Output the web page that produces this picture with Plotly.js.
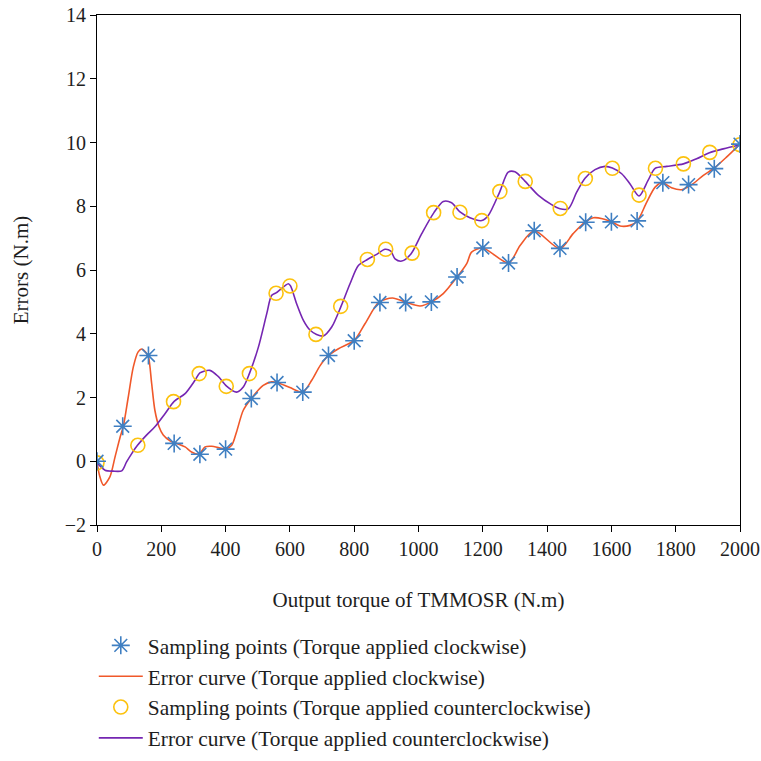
<!DOCTYPE html>
<html>
<head>
<meta charset="utf-8">
<script src="https://cdn.plot.ly/plotly-3.0.1.min.js"></script>
<style>html,body{margin:0;padding:0;background:#fff}#chart{width:761px;height:761px}</style>
</head>
<body>
<div id="chart"></div>
<script>
// Sampling points, torque applied clockwise
var cwSampleX = [0,80,160,240,320,400,480,560,640,720,800,880,960,1040,1120,1200,1280,1360,1440,1520,1600,1680,1760,1840,1920,2000];
var cwSampleY = [0,1.1,3.32,0.56,0.22,0.38,1.97,2.47,2.17,3.32,3.78,4.98,4.98,5.0,5.78,6.69,6.22,7.23,6.68,7.5,7.51,7.54,8.74,8.68,9.18,9.95];

// Sampling points, torque applied counterclockwise
var ccwSampleX = [0,127,238,318,402,474,557,600,681,758,841,898,980,1047,1129,1197,1253,1332,1441,1519,1603,1686,1737,1824,1906,2000];
var ccwSampleY = [-0.05,0.5,1.87,2.75,2.35,2.75,5.27,5.5,3.98,4.86,6.33,6.65,6.53,7.8,7.81,7.55,8.46,8.78,7.93,8.87,9.19,8.35,9.19,9.33,9.69,9.93];

// Error curve, clockwise
var cwCurveX = [0,8,20,40,56,72,82,97,113,128,139,151,160,170,180,193,206,227,250,274,294,317,336,357,380,400,419,434,455,480,517,543,560,600,640,668,694,720,751,800,834,877,919,960,1005,1040,1077,1120,1150,1165,1200,1280,1316,1360,1440,1481,1518,1544,1572,1603,1627,1658,1680,1710,1736,1758,1787,1818,1850,1886,1920,1958,2000];
var cwCurveY = [0,-0.45,-0.75,-0.49,0.13,0.76,1.1,2.0,2.96,3.43,3.52,3.43,3.27,2.44,1.6,1.08,0.82,0.64,0.55,0.45,0.29,0.22,0.45,0.47,0.42,0.38,0.5,0.92,1.6,1.97,2.38,2.49,2.47,2.31,2.17,2.54,3.0,3.32,3.53,3.79,4.32,4.99,5.12,4.99,4.87,5.0,5.26,5.78,6.2,6.56,6.69,6.22,6.77,7.23,6.67,7.14,7.5,7.64,7.61,7.5,7.38,7.4,7.53,8.13,8.6,8.74,8.58,8.52,8.68,8.97,9.2,9.54,9.95];

// Error curve, counterclockwise
var ccwCurveX = [0,25,50,77,92,108,126,154,180,212,240,274,305,320,351,377,403,434,455,474,502,528,543,557,595,602,621,642,663,683,704,730,759,787,813,841,870,896,914,927,948,977,1010,1048,1077,1103,1129,1160,1197,1217,1253,1279,1300,1331,1373,1414,1440,1466,1492,1518,1549,1580,1603,1632,1658,1686,1714,1736,1772,1824,1865,1905,1948,2000];
var ccwCurveY = [-0.05,-0.28,-0.31,-0.3,-0.02,0.24,0.5,0.82,1.08,1.5,1.88,2.12,2.54,2.77,2.85,2.66,2.36,2.17,2.33,2.75,3.58,4.63,5.2,5.28,5.57,5.5,4.94,4.42,4.11,3.98,3.93,4.21,4.86,5.57,6.14,6.33,6.49,6.65,6.59,6.35,6.28,6.51,7.14,7.8,8.15,8.11,7.82,7.64,7.55,7.71,8.46,9.07,9.08,8.79,8.34,8.05,7.92,7.92,8.44,8.88,9.15,9.25,9.2,9.02,8.7,8.32,8.81,9.19,9.25,9.33,9.49,9.68,9.8,9.93];

var xTicks = [0,200,400,600,800,1000,1200,1400,1600,1800,2000];
var yTicks = [-2,0,2,4,6,8,10,12,14];

var serif = "Liberation Serif, Times New Roman, serif";
var txt = "#1e1e1e";
var cBlue = "#3f7fc2", cRed = "#f0582a", cYellow = "#fcc20e", cPurple = "#7526b2";

var traces = [
  {x: cwCurveX, y: cwCurveY, mode: "lines", name: "Error curve (Torque applied clockwise)", legendgroup: "b",
   line: {color: cRed, width: 1.6, shape: "spline", smoothing: 0.8}, legendrank: 2},
  {x: ccwCurveX, y: ccwCurveY, mode: "lines", name: "Error curve (Torque applied counterclockwise)", legendgroup: "d",
   line: {color: cPurple, width: 1.6, shape: "spline", smoothing: 0.8}, legendrank: 4},
  {x: ccwSampleX, y: ccwSampleY, mode: "markers", name: "Sampling points (Torque applied counterclockwise)", legendgroup: "c",
   marker: {symbol: "circle-open", size: 14, color: cYellow, line: {width: 1.6, color: cYellow}}, legendrank: 3},
  {x: cwSampleX, y: cwSampleY, mode: "markers", name: "Sampling points (Torque applied clockwise)", legendgroup: "a",
   marker: {symbol: "asterisk-open", size: 15, color: cBlue, line: {width: 1.6, color: cBlue}}, legendrank: 1}
];

var layout = {
  width: 761, height: 761,
  margin: {l: 97, r: 21, t: 15, b: 236, autoexpand: false},
  paper_bgcolor: "#fff", plot_bgcolor: "#fff",
  font: {family: serif, size: 20, color: txt},
  showlegend: true,
  legend: {x: -0.005, xanchor: "left", y: -0.196, yanchor: "top", font: {family: serif, size: 21.4, color: txt},
           bgcolor: "rgba(0,0,0,0)", itemwidth: 44, tracegroupgap: 10, traceorder: "normal"},
  xaxis: {range: [0, 2000], tickvals: xTicks, ticktext: xTicks.map(String), showgrid: false, zeroline: false,
          showline: true, linecolor: "#000", linewidth: 1, mirror: true, ticks: "outside", ticklen: 6, tickcolor: "#000",
          tickfont: {family: serif, size: 20, color: txt},
          title: {text: "Output torque of TMMOSR (N.m)", font: {family: serif, size: 21, color: txt}, standoff: 33}},
  yaxis: {range: [-2, 14], tickvals: yTicks, showgrid: false, zeroline: false,
          showline: true, linecolor: "#000", linewidth: 1, mirror: true, ticks: "outside", ticklen: 6, tickcolor: "#000",
          tickfont: {family: serif, size: 20, color: txt},
          title: {text: "Errors (N.m)", font: {family: serif, size: 21, color: txt}, standoff: 30}}
};

Plotly.newPlot("chart", traces, layout, {staticPlot: true, displayModeBar: false});
</script>
</body>
</html>
